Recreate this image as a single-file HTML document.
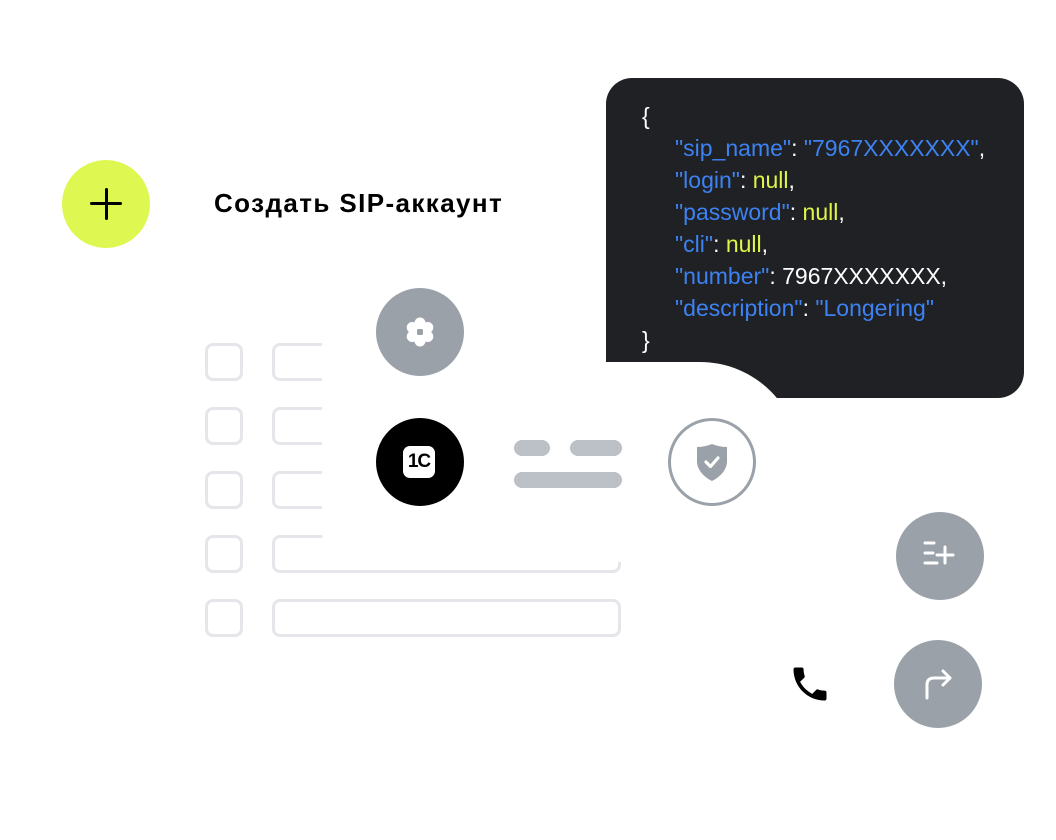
<!DOCTYPE html>
<html><head><meta charset="utf-8"><style>
html,body{margin:0;padding:0;background:#fff;}
body{width:1056px;height:840px;position:relative;overflow:hidden;font-family:"Liberation Sans",sans-serif;}
.a{position:absolute;}
.cb{width:32px;height:32px;border:3px solid #e5e6e9;border-radius:8px;}
.tf{height:32px;width:343px;border:3px solid #e5e6e9;border-radius:8px;}
.circ{border-radius:50%;}
.code{left:606px;top:78px;width:418px;height:320px;background:#1f2124;border-radius:26px;}
.code div{position:absolute;font-size:23px;line-height:32px;white-space:pre;color:#fff;}
.k{color:#3d82f2}.y{color:#e0f547}.w{color:#fff}
.pill{background:#bcc1c8;border-radius:8px;height:16px;}
</style></head><body>
<!-- plus -->
<div class="a circ" style="left:62px;top:160px;width:88px;height:88px;background:#dff751"></div>
<div class="a" style="left:90px;top:202px;width:32px;height:3px;background:#000;border-radius:2px"></div>
<div class="a" style="left:104.5px;top:188px;width:3px;height:32px;background:#000;border-radius:2px"></div>
<div class="a" style="left:214px;top:186px;font-size:26px;font-weight:bold;color:#000;letter-spacing:1.4px;line-height:34px">Создать SIP-аккаунт</div>

<!-- list -->
<div class="a cb" style="left:205px;top:343px"></div><div class="a tf" style="left:272px;top:343px"></div>
<div class="a cb" style="left:205px;top:407px"></div><div class="a tf" style="left:272px;top:407px"></div>
<div class="a cb" style="left:205px;top:471px"></div><div class="a tf" style="left:272px;top:471px"></div>
<div class="a cb" style="left:205px;top:535px"></div><div class="a tf" style="left:272px;top:535px"></div>
<div class="a cb" style="left:205px;top:599px"></div><div class="a tf" style="left:272px;top:599px"></div>

<!-- code -->
<div class="a code">
<div style="left:36px;top:22px">{</div>
<div style="left:69px;top:54px"><span class="k">"sip_name"</span>: <span class="k">"7967XXXXXXX"</span>,</div>
<div style="left:69px;top:86px"><span class="k">"login"</span>: <span class="y">null</span>,</div>
<div style="left:69px;top:118px"><span class="k">"password"</span>: <span class="y">null</span>,</div>
<div style="left:69px;top:150px"><span class="k">"cli"</span>: <span class="y">null</span>,</div>
<div style="left:69px;top:182px"><span class="k">"number"</span>: 7967XXXXXXX,</div>
<div style="left:69px;top:214px"><span class="k">"description"</span>: <span class="k">"Longering"</span></div>
<div style="left:36px;top:246px">}</div>
</div>

<!-- white overlay -->
<div class="a" style="left:322px;top:280px;width:284px;height:282px;background:#fff;border-radius:30px 0 0 30px"></div>
<div class="a" style="left:590px;top:362px;width:210px;height:200px;background:#fff;border-radius:0 100px 0 0"></div>

<!-- gear -->
<div class="a circ" style="left:376px;top:288px;width:88px;height:88px;background:#9aa1a8"></div>
<svg class="a" style="left:400px;top:312px" width="40" height="40" viewBox="0 0 40 40">
<g fill="#fff"><circle cx="20" cy="11" r="5.5"/><circle cx="20" cy="29" r="5.5"/><circle cx="12.2" cy="15.5" r="5.5"/><circle cx="27.8" cy="15.5" r="5.5"/><circle cx="12.2" cy="24.5" r="5.5"/><circle cx="27.8" cy="24.5" r="5.5"/><circle cx="20" cy="20" r="8"/></g>
<rect x="17" y="17" width="6" height="6" rx="1.5" fill="#9aa1a8"/></svg>

<!-- 1C -->
<div class="a circ" style="left:376px;top:418px;width:88px;height:88px;background:#000"></div>
<div class="a" style="left:403px;top:446px;width:32px;height:32px;background:#fff;border-radius:7px;color:#000;font-weight:bold;font-size:19px;line-height:32px;text-align:center;letter-spacing:-1px">1C</div>

<!-- pills -->
<div class="a pill" style="left:514px;top:440px;width:36px"></div>
<div class="a pill" style="left:570px;top:440px;width:52px"></div>
<div class="a pill" style="left:514px;top:472px;width:108px"></div>

<!-- shield -->
<div class="a circ" style="left:668px;top:418px;width:82px;height:82px;border:3px solid #9aa1a8"></div>
<svg class="a" style="left:693px;top:441px" width="38" height="42" viewBox="0 0 38 42">
<path d="M19 3 C24 5 29 6 34 6 L34 20 C34 29 27 36 19 40 C11 36 4 29 4 20 L4 6 C9 6 14 5 19 3Z" fill="#9aa1a8"/>
<path d="M13 21 L17.5 25.5 L25 17" stroke="#fff" stroke-width="3.2" fill="none" stroke-linecap="round" stroke-linejoin="round"/></svg>

<!-- list plus -->
<div class="a circ" style="left:896px;top:512px;width:88px;height:88px;background:#9aa1a8"></div>
<svg class="a" style="left:918px;top:534px" width="44" height="44" viewBox="0 0 44 44">
<g stroke="#fff" stroke-width="3" stroke-linecap="round"><line x1="7" y1="9" x2="16" y2="9"/><line x1="7" y1="19" x2="15" y2="19"/><line x1="7" y1="29" x2="19" y2="29"/><line x1="19" y1="21" x2="35" y2="21"/><line x1="27" y1="13" x2="27" y2="29"/></g></svg>

<!-- arrow -->
<div class="a circ" style="left:894px;top:640px;width:88px;height:88px;background:#9aa1a8"></div>
<svg class="a" style="left:916px;top:662px" width="44" height="44" viewBox="0 0 44 44">
<g stroke="#fff" stroke-width="3" fill="none" stroke-linecap="round" stroke-linejoin="round"><path d="M11 36 L11 23 Q11 16 18 16 L34 16"/><path d="M27 9 L34 16 L27 23"/></g></svg>

<!-- phone -->
<svg class="a" style="left:788px;top:662px" width="44" height="44" viewBox="0 0 24 24">
<path fill="#000" d="M6.6 10.8c1.4 2.8 3.8 5.1 6.6 6.6l2.2-2.2c.3-.3.7-.4 1-.2 1.1.4 2.3.6 3.6.6.6 0 1 .4 1 1V20c0 .6-.4 1-1 1C10.6 21 3 13.4 3 4c0-.6.4-1 1-1h3.5c.6 0 1 .4 1 1 0 1.3.2 2.5.6 3.6.1.3 0 .7-.2 1L6.6 10.8z"/></svg>
</body></html>
